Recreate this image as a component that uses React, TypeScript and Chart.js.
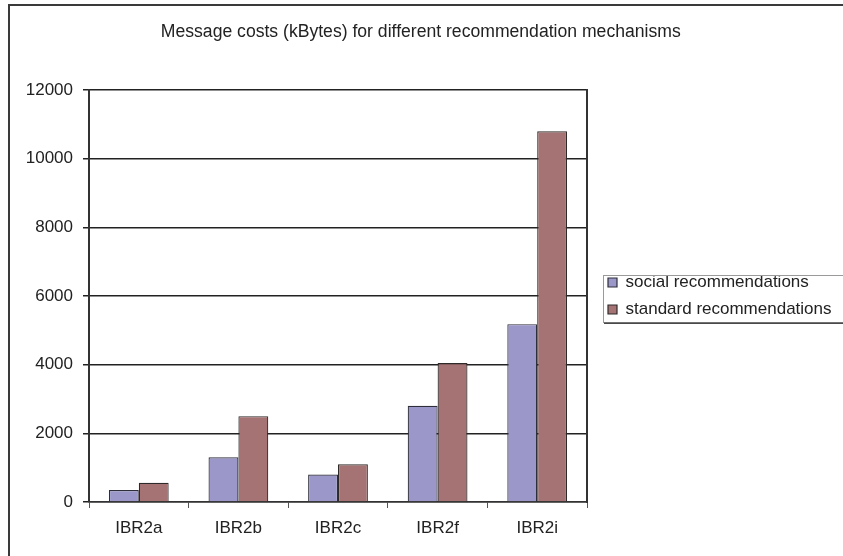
import { useEffect, useRef } from "react";
import { Chart, registerables } from "chart.js";

Chart.register(...registerables);

// Chart content
const titleText = "Message costs (kBytes) for different recommendation mechanisms";
const categories = ["IBR2a", "IBR2b", "IBR2c", "IBR2f", "IBR2i"];
const seriesNames = ["social recommendations", "standard recommendations"];
const socialValues = [350, 1300, 800, 2800, 5180];
const standardValues = [560, 2500, 1100, 4050, 10800];
const yTicks = [0, 2000, 4000, 6000, 8000, 10000, 12000];

const W = 843;
const H = 556;
const FONT = "'Liberation Sans', Arial, Helvetica, sans-serif";
const FONT_SIZE = 17;
const TITLE_SIZE = 17.6;
const LEGEND_PAD = 10;
const LEGEND_BOX = 9;
const LEGEND_LEFT = 598;

// White page plus the outer frame of the chart object
const framePlugin = {
  id: "outerFrame",
  beforeDraw(chart: Chart) {
    const { ctx } = chart;
    ctx.save();
    ctx.fillStyle = "#ffffff";
    ctx.fillRect(0, 0, chart.width, chart.height);
    ctx.restore();
  },
  afterDraw(chart: Chart) {
    const { ctx } = chart;
    ctx.save();
    ctx.strokeStyle = "#3a3a3a";
    ctx.lineWidth = 2;
    ctx.beginPath();
    ctx.moveTo(9, chart.height + 5);
    ctx.lineTo(9, 5);
    ctx.lineTo(chart.width + 5, 5);
    ctx.stroke();
    ctx.restore();
  },
};

// Border around the legend entries
const legendBoxPlugin = {
  id: "legendBox",
  afterDraw(chart: Chart) {
    const legend: any = (chart as any).legend;
    if (!legend) return;
    const { ctx, chartArea } = chart;
    const cy = (chartArea.top + chartArea.bottom) / 2;
    const x = Math.round(legend.left + 5);
    const top = Math.round(cy - 21);
    const bottom = Math.round(cy + 26);
    ctx.save();
    ctx.strokeStyle = "#9a9a9a";
    ctx.lineWidth = 1;
    ctx.strokeRect(x + 0.5, top + 0.5, chart.width + 20 - x, bottom - top);
    ctx.strokeStyle = "#4a4a4a";
    ctx.lineWidth = 1.5;
    ctx.beginPath();
    ctx.moveTo(x + 1, bottom + 1.25);
    ctx.lineTo(chart.width + 5, bottom + 1.25);
    ctx.stroke();
    ctx.restore();
  },
};

export default function App() {
  const canvasRef = useRef<HTMLCanvasElement | null>(null);

  useEffect(() => {
    const canvas = canvasRef.current;
    if (!canvas) return;

    // Width of the legend box as Chart.js will compute it
    const measure = document.createElement("canvas").getContext("2d")!;
    measure.font = `${FONT_SIZE}px ${FONT}`;
    const textW = Math.max(...seriesNames.map((s) => measure.measureText(s).width));
    const legendW = LEGEND_PAD + LEGEND_BOX + FONT_SIZE / 2 + textW + 10;
    const rightPad = Math.max(0, W - LEGEND_LEFT - legendW);

    const chart = new Chart(canvas, {
      type: "bar",
      data: {
        labels: categories,
        datasets: [
          {
            label: seriesNames[0],
            data: socialValues,
            backgroundColor: "#9b98c9",
            borderColor: "#2e2e3a",
            borderWidth: 1.2,
            yAxisID: "y",
          },
          {
            label: seriesNames[1],
            data: standardValues,
            backgroundColor: "#a57373",
            borderColor: "#2e2a2a",
            borderWidth: 1.2,
            yAxisID: "y",
          },
        ],
      },
      options: {
        responsive: false,
        animation: false,
        devicePixelRatio: 1,
        layout: { padding: { left: 0, right: rightPad, top: 0, bottom: 0 } },
        datasets: {
          bar: { categoryPercentage: 0.6, barPercentage: 1 },
        },
        font: { family: FONT, size: FONT_SIZE },
        scales: {
          x: {
            type: "category",
            offset: true,
            grid: {
              display: true,
              offset: true,
              drawOnChartArea: false,
              drawTicks: true,
              tickLength: 6,
              color: "#555555",
              lineWidth: 1,
            },
            border: { display: true, color: "#333333", width: 1.5 },
            ticks: {
              color: "#222222",
              font: { family: FONT, size: FONT_SIZE },
              padding: 10,
              maxRotation: 0,
            },
            afterFit(scale: any) {
              scale.height = 54;
            },
          },
          y: {
            type: "linear",
            position: "left",
            min: 0,
            max: 12000,
            grid: {
              color: "#222222",
              lineWidth: 1.5,
              drawTicks: true,
              tickLength: 6,
            },
            border: { display: true, color: "#333333", width: 2 },
            ticks: {
              color: "#222222",
              font: { family: FONT, size: FONT_SIZE },
              padding: 10,
              callback: (v: any) => String(v),
            },
            afterBuildTicks(scale: any) {
              scale.ticks = yTicks.map((v) => ({ value: v }));
            },
            afterFit(scale: any) {
              scale.width = 89;
            },
          },
          // Right-hand edge of the plot frame
          yEdge: {
            type: "linear",
            position: "right",
            display: true,
            grid: { display: false, drawTicks: false },
            ticks: { display: false },
            border: { display: true, color: "#333333", width: 2 },
            afterFit(scale: any) {
              scale.width = 11;
            },
          },
        },
        plugins: {
          title: {
            display: true,
            text: titleText,
            color: "#222222",
            font: { family: FONT, size: TITLE_SIZE, weight: "normal" },
            padding: { top: 22, bottom: 46.9 },
          },
          legend: {
            display: true,
            position: "right",
            fullSize: false,
            align: "center",
            maxWidth: 320,
            labels: {
              boxWidth: LEGEND_BOX,
              boxHeight: LEGEND_BOX,
              padding: LEGEND_PAD,
              color: "#222222",
              font: { family: FONT, size: FONT_SIZE },
            },
          },
          tooltip: { enabled: false },
        },
      },
      plugins: [framePlugin, legendBoxPlugin],
    });

    return () => chart.destroy();
  }, []);

  return (
    <div style={{ position: "absolute", left: 0, top: 0, width: W, height: H, background: "#fff" }}>
      <canvas ref={canvasRef} width={W} height={H} style={{ display: "block" }} />
    </div>
  );
}
